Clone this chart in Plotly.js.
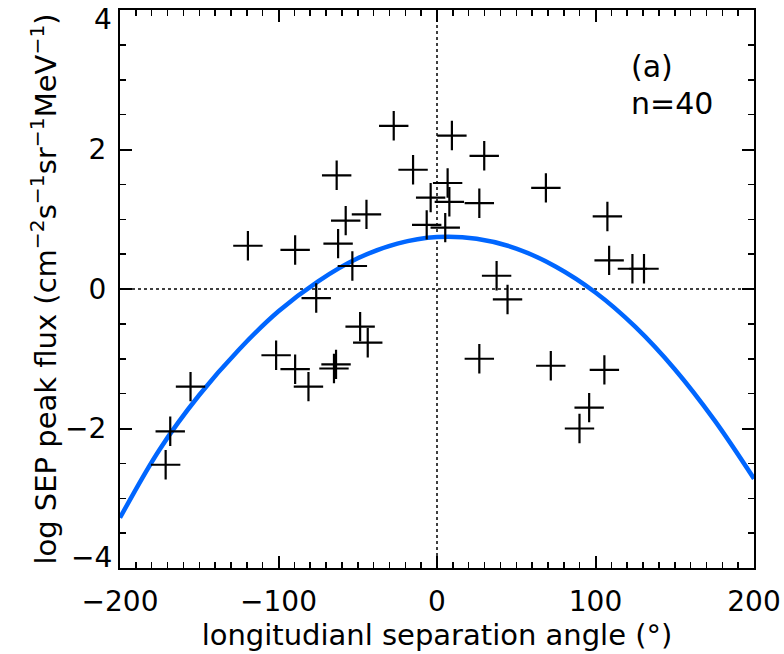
<!DOCTYPE html>
<html>
<head>
<meta charset="utf-8">
<script src="https://cdn.plot.ly/plotly-3.0.1.min.js"></script>
<style>html,body{margin:0;padding:0;background:#fff;}#chart{width:784px;height:654px;}</style>
</head>
<body>
<div id="chart"></div>
<script>
// Scatter data: longitudinal separation angle (deg) and log SEP peak flux
const sepAngle = [-27.3, -15.1, -63.3, -4.0, -44.5, -57.6, -6.5, 5.2, -119.3, -89.5,
                  -62.4, -53.4, -76.2, 9.4, 29.8, 6.7, 7.8, 26.7, 68.7, 107.5,
                  108.6, 123.3, 130.6, 37.6, 44.5, -48.5, -43.7, -101.5, -89.5, -63.7,
                  -65.0, -81.1, -155.5, -168.3, -171.2, 26.7, 71.8, 105.6, 96.0, 89.9];
const logFlux  = [2.34, 1.71, 1.63, 1.31, 1.07, 0.98, 0.92, 0.88, 0.62, 0.56,
                  0.65, 0.33, -0.13, 2.20, 1.91, 1.52, 1.25, 1.23, 1.45, 1.04,
                  0.41, 0.29, 0.29, 0.19, -0.15, -0.54, -0.77, -0.95, -1.15, -1.08,
                  -1.14, -1.40, -1.40, -2.04, -2.52, -1.00, -1.10, -1.16, -1.70, -2.00];
// Fitted curve
const fitAngle = [-200, -175, -150, -125, -100, -75, -50, -25, 0, 25, 50, 75, 100, 125, 150, 175, 200];
const fitFlux  = [-3.28, -2.30, -1.52, -0.87, -0.32, 0.11, 0.44, 0.65, 0.745, 0.72, 0.58, 0.32, -0.05, -0.54, -1.15, -1.88, -2.72];
const xTicks = [-200, -100, 0, 100, 200];
const yTicks = [-4, -2, 0, 2, 4];
const yInnerTicks = [-2, 0, 2];   // drawn by the axis; the end labels are placed inside the span
const yEndTicks = [4, -4];

const FONT = "DejaVu Sans";
const fmt = v => v < 0 ? '\u2212' + Math.abs(v) : String(v);
const traces = [
  {x: fitAngle, y: fitFlux, mode: 'lines', line: {color: '#0066ff', width: 4.5, shape: 'spline', smoothing: 1.0}, hoverinfo: 'skip'},
  {x: sepAngle, y: logFlux, mode: 'markers', marker: {symbol: 'cross-thin-open', size: 21, line: {color: '#000', width: 2.2}, color: '#000'}}
];
const axisCommon = {
  showline: true, linecolor: '#000', linewidth: 2, mirror: 'ticks',
  ticks: 'inside', tickcolor: '#000', tickwidth: 2, ticklen: 12,
  showgrid: false, zeroline: false,
  ticklabeloverflow: 'allow',
  tickfont: {family: FONT, size: 28, color: '#000'},
};
const layout = {
  width: 784, height: 654,
  margin: {l: 120, r: 30, t: 10, b: 86},
  paper_bgcolor: '#fff', plot_bgcolor: '#fff',
  showlegend: false,
  font: {family: FONT, color: '#000'},
  xaxis: Object.assign({}, axisCommon, {
    range: [-200, 200], tickmode: 'array', tickvals: xTicks, ticktext: xTicks.map(fmt),
    minor: {dtick: 10, ticks: 'inside', ticklen: 6, tickwidth: 1.5, tickcolor: '#000'},
    ticklabelstandoff: 7,
    title: {text: 'longitudianl separation angle (°)', font: {family: FONT, size: 29, color: '#000'}, standoff: 3},
    automargin: false
  }),
  yaxis: Object.assign({}, axisCommon, {
    range: [-4, 4], tickmode: 'array', tickvals: yTicks,
    ticktext: yTicks.map(v => yInnerTicks.includes(v) ? fmt(v) : '\u2212'),
    minor: {dtick: 0.5, ticks: 'inside', ticklen: 6, tickwidth: 1.5, tickcolor: '#000'},
    ticklabelstandoff: 6,
    title: {text: 'log SEP peak flux (cm<sup>\u22122</sup>s<sup>\u22121</sup>sr<sup>\u22121</sup>MeV<sup>\u22121</sup>)', font: {family: FONT, size: 29, color: '#000'}, standoff: 0},
    automargin: false
  }),
  shapes: [
    {type: 'line', xref: 'x', yref: 'paper', x0: 0, x1: 0, y0: 0, y1: 1, line: {color: '#000', width: 1.5, dash: 'dot'}, layer: 'below'},
    {type: 'line', xref: 'paper', yref: 'y', x0: 0, x1: 1, y0: 0, y1: 0, line: {color: '#000', width: 1.5, dash: 'dot'}, layer: 'below'}
  ],
  annotations: [
    {xref: 'paper', yref: 'paper', x: 0.803, y: 0.898, xanchor: 'left', yanchor: 'middle', text: '(a)', showarrow: false, font: {family: FONT, size: 30, color: '#000'}},
    {xref: 'paper', yref: 'paper', x: 0.803, y: 0.833, xanchor: 'left', yanchor: 'middle', text: 'n=40', showarrow: false, font: {family: FONT, size: 30, color: '#000'}}
  ].concat(yEndTicks.map(v => ({
    xref: 'paper', yref: 'y', x: 0, y: v, xanchor: 'right', yanchor: 'middle', xshift: -6,
    yshift: v > 0 ? -9 : 11, text: fmt(v), showarrow: false, font: {family: FONT, size: 28, color: '#000'}
  })))
};
// hide placeholder end labels on the y axis (keep inner ones)
layout.yaxis.ticktext = yTicks.map(v => yInnerTicks.includes(v) ? fmt(v) : ' ');
Plotly.newPlot('chart', traces, layout, {staticPlot: true});
</script>
</body>
</html>
